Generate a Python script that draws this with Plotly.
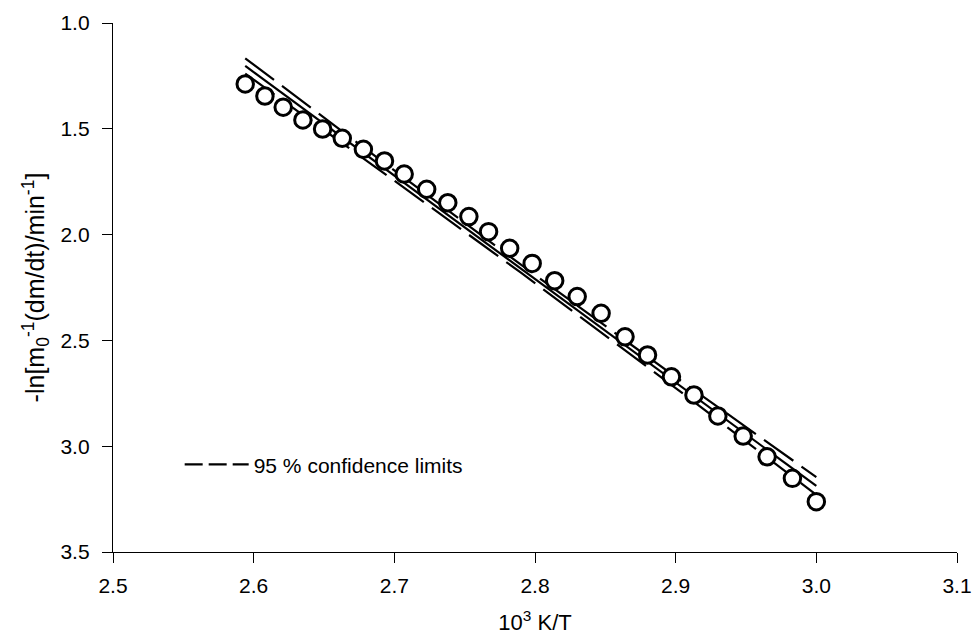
import plotly.graph_objects as go

# data
inv_T = [2.594, 2.608, 2.621, 2.635, 2.649, 2.663, 2.678, 2.693, 2.707, 2.723,
         2.738, 2.753, 2.767, 2.782, 2.798, 2.814, 2.830, 2.847, 2.864, 2.880,
         2.897, 2.913, 2.930, 2.948, 2.965, 2.983, 3.000]
neg_ln_rate = [1.288, 1.345, 1.398, 1.458, 1.501, 1.545, 1.597, 1.652, 1.714, 1.786,
               1.849, 1.915, 1.986, 2.065, 2.136, 2.218, 2.293, 2.372, 2.483, 2.569,
               2.672, 2.758, 2.857, 2.952, 3.050, 3.152, 3.262]

fit_x = [2.594, 3.000]
fit_y = [1.203, 3.188]

conf_x = [2.594, 2.70, 2.79, 2.90, 3.000]
conf_upper = [1.167, 1.697, 2.142, 2.673, 3.146]
conf_lower = [1.239, 1.745, 2.180, 2.725, 3.230]

legend_label = "95 % confidence limits"
x_ticks = [2.5, 2.6, 2.7, 2.8, 2.9, 3.0, 3.1]
y_ticks = [1.0, 1.5, 2.0, 2.5, 3.0, 3.5]

FONT = "Liberation Sans, Arial, Helvetica, sans-serif"
DASH = "36px,10px"

fig = go.Figure()
fig.add_trace(go.Scatter(x=conf_x, y=conf_upper, mode="lines",
                         line=dict(color="black", width=2.2, dash=DASH),
                         showlegend=False, hoverinfo="skip"))
fig.add_trace(go.Scatter(x=conf_x, y=conf_lower, mode="lines",
                         line=dict(color="black", width=2.2, dash=DASH),
                         showlegend=False, hoverinfo="skip"))
fig.add_trace(go.Scatter(x=fit_x, y=fit_y, mode="lines",
                         line=dict(color="black", width=2.2),
                         showlegend=False, hoverinfo="skip"))
fig.add_trace(go.Scatter(x=inv_T, y=neg_ln_rate, mode="markers",
                         marker=dict(symbol="circle", size=16.5, color="white",
                                     line=dict(color="black", width=3)),
                         showlegend=False))
# legend entry
fig.add_trace(go.Scatter(x=[None], y=[None], mode="lines", name=legend_label,
                         line=dict(color="black", width=2.2, dash="18px,6px"),
                         showlegend=True))

axis_common = dict(showline=True, linecolor="black", linewidth=1.3,
                   ticks="outside", ticklen=10, tickwidth=1.3, tickcolor="black",
                   showgrid=False, zeroline=False, mirror=False, automargin=False,
                   tickfont=dict(family=FONT, size=21, color="black"))

fig.update_xaxes(range=[2.5, 3.1], tickvals=x_ticks,
                 ticktext=[f"{v:.1f}" for v in x_ticks],
                 title=dict(text="10<sup>3</sup> K/T",
                            font=dict(family=FONT, size=22, color="black"),
                            standoff=18),
                 ticklabelstandoff=5,
                 **axis_common)
fig.update_yaxes(range=[3.5, 1.0], tickvals=y_ticks,
                 ticktext=[f"{v:.1f}" for v in y_ticks],
                 title=dict(text="-ln[m<sub>0</sub><sup>-1</sup>(dm/dt)/min<sup>-1</sup>]",
                            font=dict(family=FONT, size=25, color="black"),
                            standoff=8),
                 ticklabelstandoff=8,
                 **axis_common)

fig.update_layout(
    width=973, height=637,
    margin=dict(l=113, r=16, t=23, b=85),
    plot_bgcolor="white", paper_bgcolor="white",
    showlegend=True,
    legend=dict(x=0.079, y=0.165, xanchor="left", yanchor="middle",
                bgcolor="rgba(0,0,0,0)", borderwidth=0,
                font=dict(family=FONT, size=21, color="black"),
                itemwidth=64),
)

fig.write_html("out.html")
